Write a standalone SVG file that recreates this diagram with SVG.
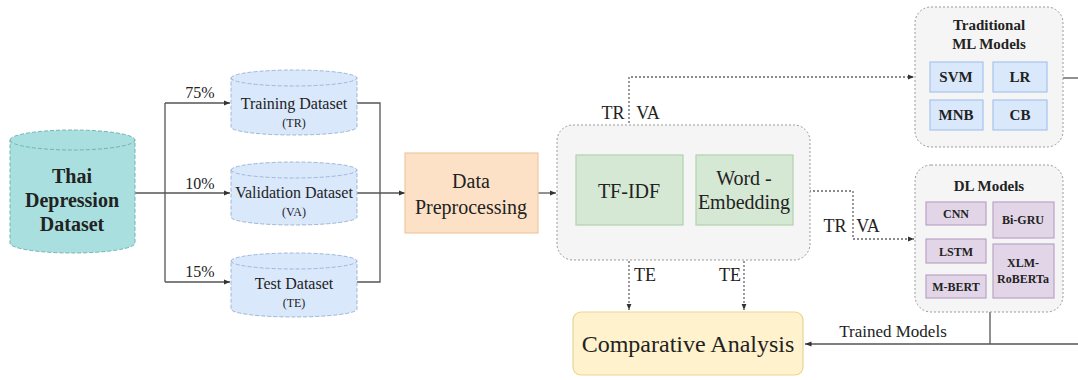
<svg xmlns="http://www.w3.org/2000/svg" width="1078" height="380" viewBox="0 0 1078 380" font-family="'Liberation Serif', 'Times New Roman', serif">
<defs>
<marker id="ah" viewBox="0 0 10 10" refX="10" refY="5" markerWidth="5" markerHeight="5" orient="auto"><path d="M0,1 L10,5 L0,9 z" fill="#333"/></marker>
<style>
text{font-family:'Liberation Serif','Times New Roman',serif;fill:#222;}
.b{font-weight:bold;}
.ln{fill:none;stroke:#555;stroke-width:1.3;}
.dt{fill:none;stroke:#666;stroke-width:1.3;stroke-dasharray:2 2;}
.cyl{fill:#dae8fc;stroke:#9fb6d6;stroke-width:1;stroke-dasharray:4 2;}
.cont{fill:#f5f5f5;stroke:#999;stroke-width:1;stroke-dasharray:2 2;}
.blue{fill:#dae8fc;stroke:#a9c4eb;stroke-width:1.2;}
.pur{fill:#e1d5e7;stroke:#b9a3c6;stroke-width:1.2;}
.grn{fill:#d5e8d4;stroke:#b2d1ad;stroke-width:1.2;}
</style>
</defs>
<rect width="1078" height="380" fill="#fff"/>
<g id="connectors">
<path class="ln" d="M135,193 H165 M165,103 V282"/>
<path class="ln" d="M165,103 H230" marker-end="url(#ah)"/>
<path class="ln" d="M165,193 H230" marker-end="url(#ah)" stroke="#999"/>
<path class="ln" d="M165,282 H230" marker-end="url(#ah)"/>
<path class="ln" d="M357,103 H380 V282 H357"/>
<path class="ln" d="M357,193 H405" marker-end="url(#ah)" stroke="#999"/>
<path class="ln" d="M538,193 H556" marker-end="url(#ah)" stroke="#999"/>
<path class="dt" d="M629,155 V77 H914" marker-end="url(#ah)"/>
<path class="dt" d="M629,225 V310" marker-end="url(#ah)"/>
<path class="dt" d="M744,225 V310" marker-end="url(#ah)"/>
<path class="dt" d="M793,191 H853 V239 H914" marker-end="url(#ah)"/>
<path class="ln" d="M1063,78 H1078"/>
<path class="ln" d="M990,312 V344"/>
<path class="ln" d="M1078,344 H805" marker-end="url(#ah)"/>
<text x="200" y="98" font-size="16" text-anchor="middle">75%</text>
<text x="200" y="189" font-size="16" text-anchor="middle">10%</text>
<text x="200" y="277" font-size="16" text-anchor="middle">15%</text>
<text x="613" y="119" font-size="18" text-anchor="middle">TR</text>
<text x="648" y="119" font-size="18" text-anchor="middle">VA</text>
<text x="645" y="281" font-size="18" text-anchor="middle">TE</text>
<text x="730" y="281" font-size="18" text-anchor="middle">TE</text>
<text x="835" y="232" font-size="18" text-anchor="middle">TR</text>
<text x="868" y="232" font-size="18" text-anchor="middle">VA</text>
<text x="893" y="337" font-size="17" text-anchor="middle">Trained Models</text>
</g>
<g id="thai-dataset">
<path d="M10,140 A62.5,10 0 0,1 135,140 V243 A62.5,10 0 0,1 10,243 Z" fill="#a9e0df" stroke="#6fb5b3" stroke-width="1" stroke-dasharray="4 2"/>
<path d="M10,140 A62.5,10 0 0,0 135,140" fill="none" stroke="#6fb5b3" stroke-width="1" stroke-dasharray="4 2"/>
<text x="72" y="183" font-size="20" class="b" text-anchor="middle">Thai</text>
<text x="72" y="207" font-size="20" class="b" text-anchor="middle">Depression</text>
<text x="72" y="231" font-size="20" class="b" text-anchor="middle">Dataset</text>
</g>
<g id="training-dataset">
<path class="cyl" d="M231,78 A63,8 0 0,1 357,78 V127 A63,8 0 0,1 231,127 Z"/>
<path class="cyl" d="M231,78 A63,8 0 0,0 357,78" fill="none"/>
<text x="294" y="109" font-size="16" text-anchor="middle">Training Dataset</text>
<text x="294" y="127" font-size="12" text-anchor="middle">(TR)</text>
</g>
<g id="validation-dataset">
<path class="cyl" d="M231,170 A63,8 0 0,1 357,170 V217 A63,8 0 0,1 231,217 Z"/>
<path class="cyl" d="M231,170 A63,8 0 0,0 357,170" fill="none"/>
<text x="294" y="198" font-size="16" text-anchor="middle">Validation Dataset</text>
<text x="294" y="216" font-size="12" text-anchor="middle">(VA)</text>
</g>
<g id="test-dataset">
<path class="cyl" d="M231,261 A63,8 0 0,1 357,261 V309 A63,8 0 0,1 231,309 Z"/>
<path class="cyl" d="M231,261 A63,8 0 0,0 357,261" fill="none"/>
<text x="294" y="289" font-size="16" text-anchor="middle">Test Dataset</text>
<text x="294" y="307" font-size="12" text-anchor="middle">(TE)</text>
</g>
<g id="data-preprocessing">
<rect x="405" y="153" width="133" height="80" fill="#fde1c6" stroke="#f0c89e" stroke-width="1.2"/>
<text x="471" y="188" font-size="20" text-anchor="middle">Data</text>
<text x="471" y="214" font-size="20" text-anchor="middle">Preprocessing</text>
</g>
<g id="feature-extraction">
<rect class="cont" x="557" y="125" width="253" height="135" rx="16"/>
</g>
<g id="tf-idf">
<rect class="grn" x="576" y="155" width="107" height="70"/>
<text x="629" y="198" font-size="20" text-anchor="middle">TF-IDF</text>
</g>
<g id="word-embedding">
<rect class="grn" x="696" y="155" width="97" height="70"/>
<text x="744" y="185" font-size="20" text-anchor="middle">Word -</text>
<text x="744" y="209" font-size="20" text-anchor="middle">Embedding</text>
</g>
<g id="traditional-ml">
<rect class="cont" x="915" y="7" width="148" height="140" rx="16"/>
<text x="989" y="30" font-size="15" class="b" text-anchor="middle">Traditional</text>
<text x="989" y="49" font-size="15" class="b" text-anchor="middle">ML Models</text>
<rect class="blue" x="930" y="62" width="53" height="30"/>
<text x="956" y="82" font-size="15" class="b" text-anchor="middle">SVM</text>
<rect class="blue" x="993" y="62" width="54" height="30"/>
<text x="1020" y="82" font-size="15" class="b" text-anchor="middle">LR</text>
<rect class="blue" x="930" y="100" width="53" height="30"/>
<text x="956" y="120" font-size="15" class="b" text-anchor="middle">MNB</text>
<rect class="blue" x="993" y="100" width="54" height="30"/>
<text x="1020" y="120" font-size="15" class="b" text-anchor="middle">CB</text>
</g>
<g id="dl-models">
<rect class="cont" x="915" y="165" width="148" height="147" rx="16"/>
<text x="989" y="191" font-size="15" class="b" text-anchor="middle">DL Models</text>
<rect class="pur" x="926" y="202" width="60" height="23"/>
<text x="956" y="218" font-size="12" class="b" text-anchor="middle">CNN</text>
<rect class="pur" x="993" y="202" width="61" height="36"/>
<text x="1023" y="224" font-size="12" class="b" text-anchor="middle">Bi-GRU</text>
<rect class="pur" x="926" y="239" width="60" height="24"/>
<text x="956" y="256" font-size="12" class="b" text-anchor="middle">LSTM</text>
<rect class="pur" x="926" y="275" width="60" height="23"/>
<text x="956" y="291" font-size="12" class="b" text-anchor="middle">M-BERT</text>
<rect class="pur" x="993" y="244" width="61" height="54"/>
<text x="1023" y="267" font-size="12" class="b" text-anchor="middle">XLM-</text>
<text x="1023" y="283" font-size="12" class="b" text-anchor="middle">RoBERTa</text>
</g>
<g id="comparative-analysis">
<rect x="573" y="312" width="230" height="63" rx="8" fill="#fff2cc" stroke="#e8d595" stroke-width="1.2"/>
<text x="688" y="352" font-size="24" text-anchor="middle">Comparative Analysis</text>
</g>
</svg>
